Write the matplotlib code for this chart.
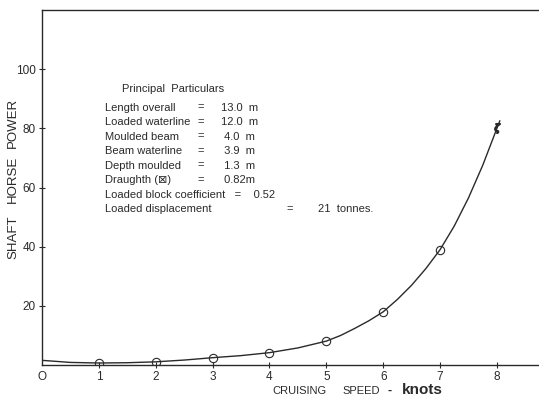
import matplotlib.pyplot as plt

# measured points (open circles), last one drawn with a different mark
speed_pts = [1, 2, 3, 4, 5, 6, 7]
shp_pts = [0.7, 1.0, 2.5, 4.0, 8.0, 18.0, 39.0]
speed_last = [8]
shp_last = [80.0]

# faired curve
curve_speed = [0, 0.5, 1, 1.5, 2, 2.5, 3, 3.5, 4, 4.5, 5, 5.25, 5.5, 5.75, 6,
               6.25, 6.5, 6.75, 7, 7.25, 7.5, 7.75, 8, 8.05]
curve_shp = [1.6, 0.9, 0.7, 0.8, 1.1, 1.7, 2.5, 3.2, 4.2, 5.8, 8.1, 10.0, 12.4,
             15.0, 18.0, 22.2, 27.0, 32.6, 39.0, 47.0, 56.5, 67.5, 80.0, 82.5]

x_ticks = [1, 2, 3, 4, 5, 6, 7, 8]
y_ticks = [20, 40, 60, 80, 100]

particulars = [
    ("Length overall", "=", "13.0  m"),
    ("Loaded waterline", "=", "12.0  m"),
    ("Moulded beam", "=", " 4.0  m"),
    ("Beam waterline", "=", " 3.9  m"),
    ("Depth moulded", "=", " 1.3  m"),
    ("Draughth (\u22a0)", "=", " 0.82m"),
]

ink = "#2a2a2a"
plt.rcParams['font.family'] = ['Liberation Sans', 'DejaVu Sans']

fig = plt.figure(figsize=(5.39, 3.99), dpi=100)
ax = fig.add_axes([0.078, 0.085, 0.922, 0.89])
ax.set_xlim(0, 8.74)
ax.set_ylim(0, 120)

ax.plot(curve_speed, curve_shp, color=ink, lw=1.0)
ax.plot(speed_pts, shp_pts, 'o', ms=6, mfc='none', mec=ink, mew=0.8)
ax.plot(speed_last, shp_last, marker=r'$\zeta$', ms=7, color=ink, ls='none')

ax.spines['right'].set_visible(False)
for s in ['left', 'bottom', 'top']:
    ax.spines[s].set_color(ink)
    ax.spines[s].set_linewidth(1.0)

ax.set_xticks(x_ticks)
ax.set_yticks(y_ticks)
ax.tick_params(direction='inout', length=5, width=0.8, colors=ink,
               labelsize=8.5, pad=2)
ax.text(0, -2.0, "O", ha='center', va='top', fontsize=8.5, color=ink)

# y label, word by word
for word, yc in [("SHAFT", 0.405), ("HORSE", 0.55), ("POWER", 0.692)]:
    fig.text(0.024, yc, word, fontsize=9.5, color=ink,
             rotation=90, ha='center', va='center')

# x label
fig.text(0.505, 0.02, "CRUISING", fontsize=8, color=ink,
         ha='left', va='center')
fig.text(0.636, 0.02, "SPEED", fontsize=8, color=ink,
         ha='left', va='center')
fig.text(0.718, 0.02, "-", fontsize=9, fontweight='bold', color=ink,
         ha='left', va='center')
fig.text(0.745, 0.022, "knots", fontsize=11, fontweight='bold',
         fontstretch='condensed', color=ink, ha='left', va='center')

# principal particulars block
fs = 8
ax.text(1.41, 92.3, "Principal  Particulars", fontsize=fs, color=ink)
row_y = 86.0
for name, eq, val in particulars:
    ax.text(1.1, row_y, name, fontsize=fs, color=ink)
    ax.text(2.73, row_y, eq, fontsize=fs, color=ink)
    ax.text(3.15, row_y, val, fontsize=fs, color=ink)
    row_y -= 4.9
ax.text(1.1, row_y, "Loaded block coefficient   =    0.52", fontsize=fs, color=ink)
row_y -= 4.9
ax.text(1.1, row_y, "Loaded displacement", fontsize=fs, color=ink)
ax.text(4.3, row_y, "=", fontsize=fs, color=ink)
ax.text(4.85, row_y, "21  tonnes.", fontsize=fs, color=ink)

fig.savefig("out.png", dpi=100)
